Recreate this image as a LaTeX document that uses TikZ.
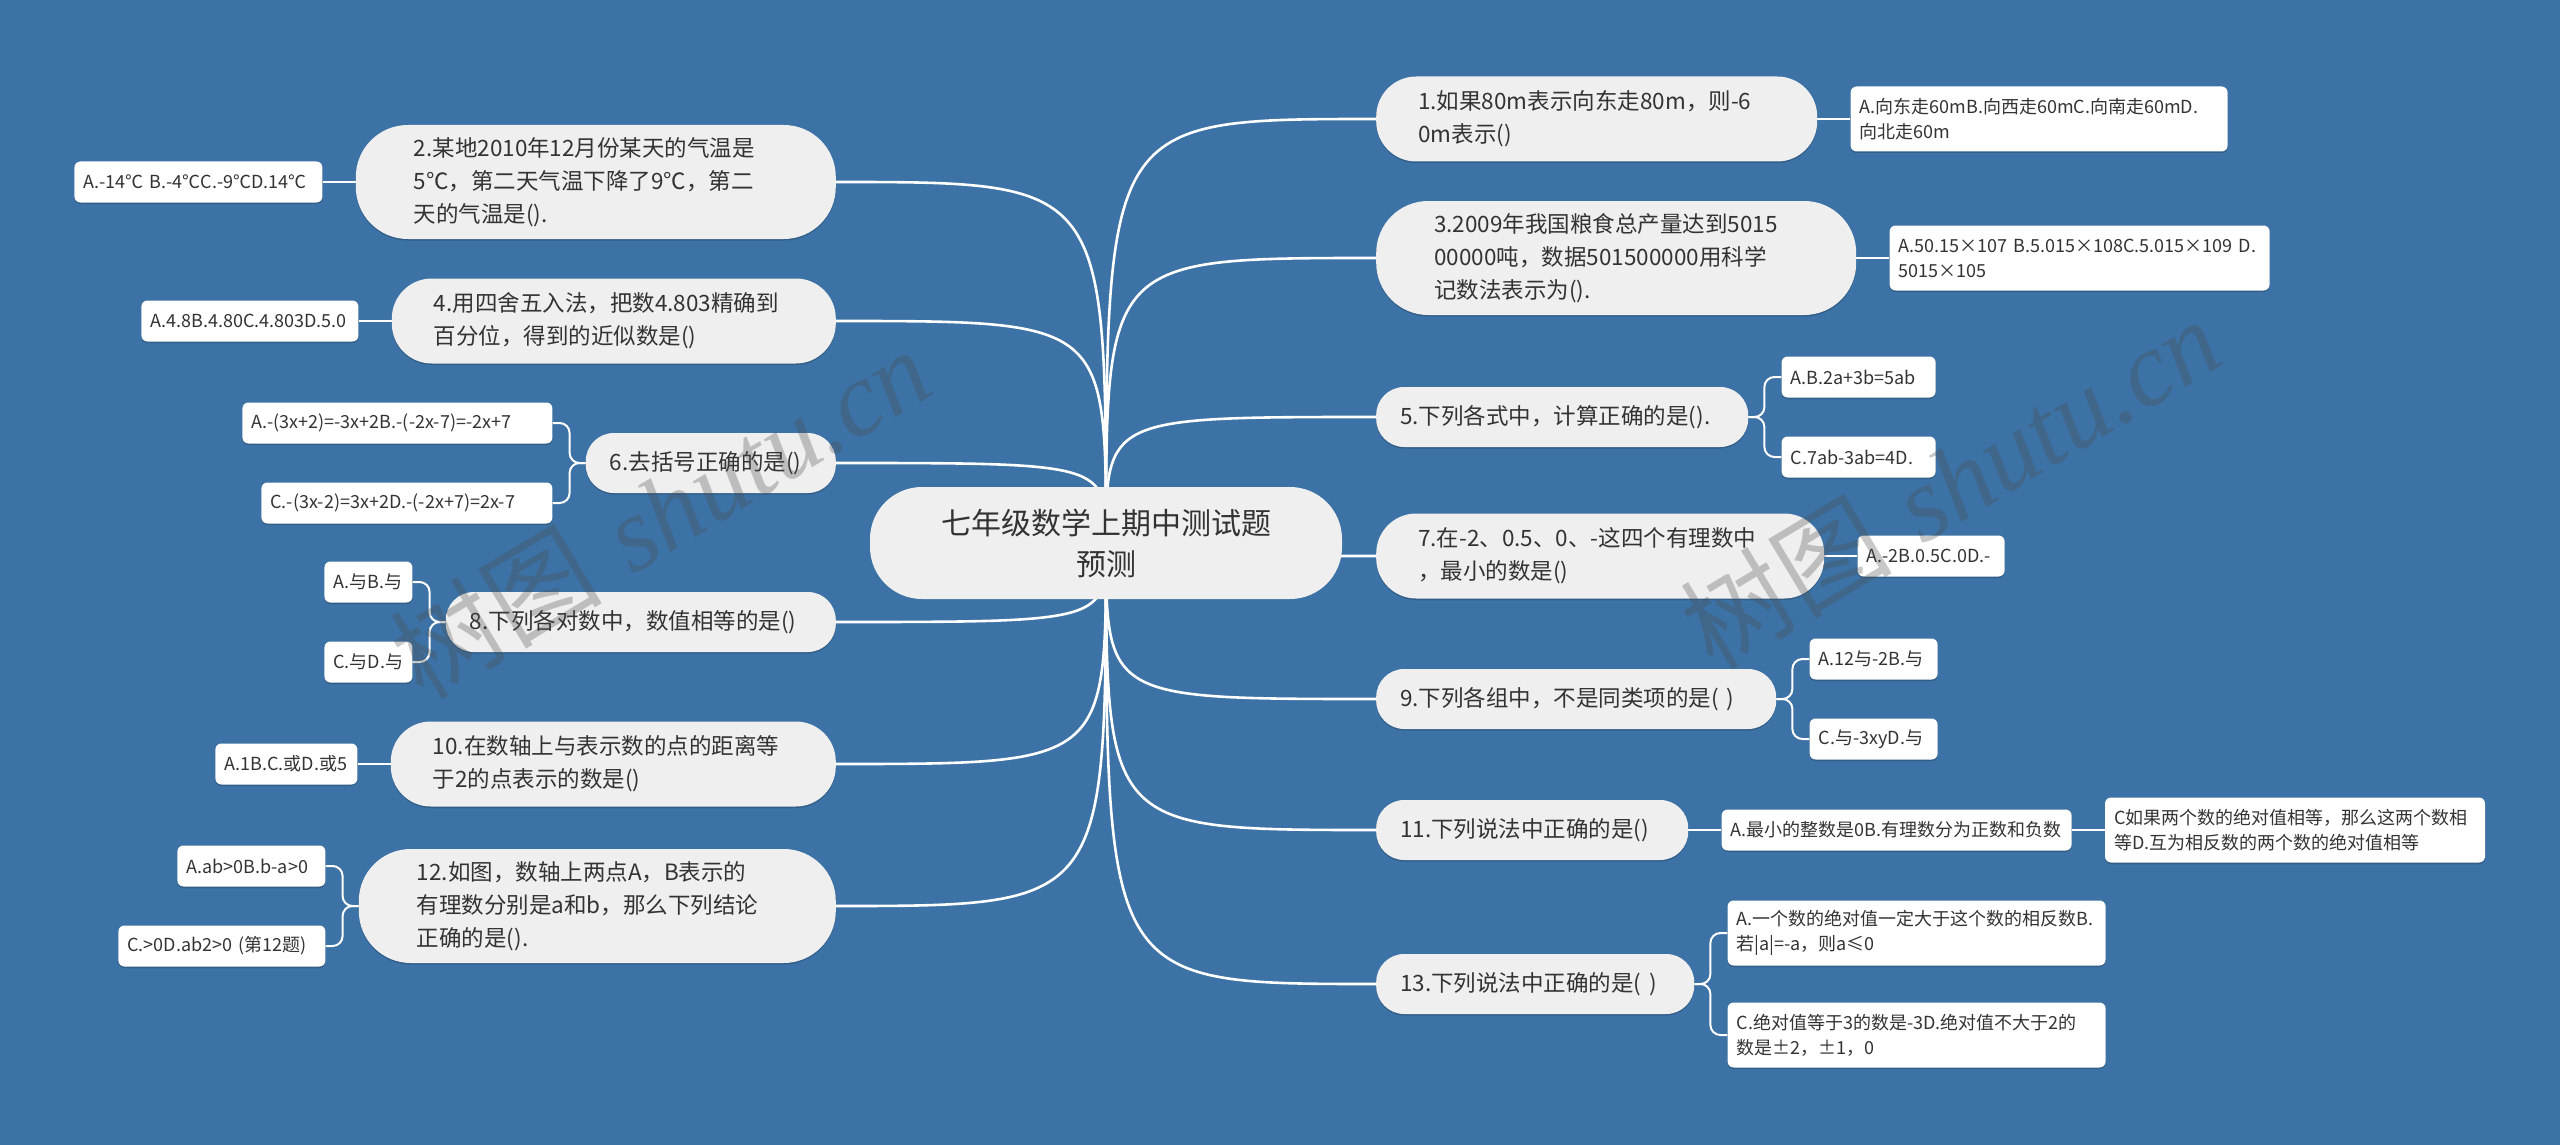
\documentclass[tikz,border=0pt]{standalone}
\usepackage{fontspec}
\newfontfamily\cjk{Noto Sans CJK SC}
\newfontfamily\yinfont{Liberation Serif}
\usepackage{tikz}
\usetikzlibrary{positioning,backgrounds,shadows}
\definecolor{clan}{HTML}{3C72A5}
\definecolor{chui}{HTML}{EFEFEF}
\definecolor{cwen}{HTML}{333333}
\tikzset{
  zhuti/.style={rectangle, rounded corners=52pt, fill=chui, text=cwen,
    font=\cjk\fontsize{30}{41}\selectfont, align=center,
    minimum width=472pt, minimum height=112pt, inner sep=0pt},
  wenti/.style={rectangle, rounded corners=28pt, fill=chui, text=cwen,
    font=\cjk\fontsize{22.5}{33}\selectfont, align=left,
    inner xsep=24pt, inner ysep=0pt, minimum height=60pt,
    drop shadow={shadow xshift=0pt, shadow yshift=-1.5pt, opacity=.18, fill=black}},
  wentil/.style={wenti, rounded corners=40pt, inner xsep=42pt, minimum height=85pt},
  wentill/.style={wenti, rounded corners=52pt, inner xsep=58pt, minimum height=114pt},
  daan/.style={rectangle, rounded corners=6pt, fill=white, text=cwen,
    font=\cjk\fontsize{18}{25}\selectfont, align=left,
    inner xsep=9pt, inner ysep=0pt, minimum height=41pt,
    drop shadow={shadow xshift=0pt, shadow yshift=-1.5pt, opacity=.18, fill=black}},
  daanl/.style={daan, minimum height=65pt},
  zhi/.style={draw=white, line width=2.6pt},
  ye/.style={draw=white, line width=2pt},
  shuiyin/.style={rotate=31, text=black!70, text opacity=.3,
    font=\fontsize{106}{106}\selectfont},
}

\begin{document}
\begin{tikzpicture}[x=1pt, y=-1pt, node distance=33pt]
  \useasboundingbox (0,0) rectangle (2560,1145);
  \node[zhuti] (zhu) at (1106,543) {七年级数学上期中测试题\\预测};

  % right side
  \node[wentil, anchor=west, text width=357pt] (n1) at (1376,119) {1.如果80m表示向东走80m，则-6\\0m表示()};
  \node[wentill, anchor=west, text width=364pt] (n3) at (1376,258) {3.2009年我国粮食总产量达到5015\\00000吨，数据501500000用科学\\记数法表示为().};
  \node[wenti, anchor=west, text width=324pt] (n5) at (1376,417) {5.下列各式中，计算正确的是().};
  \node[wentil, anchor=west, text width=364pt] (n7) at (1376,556) {7.在-2、0.5、0、-这四个有理数中\\，最小的数是()};
  \node[wenti, anchor=west, text width=352pt] (n9) at (1376,699) {9.下列各组中，不是同类项的是( )};
  \node[wenti, anchor=west, text width=264pt] (n11) at (1376,830) {11.下列说法中正确的是()};
  \node[wenti, anchor=west, text width=270pt] (n13) at (1376,984) {13.下列说法中正确的是( )};

  \node[daanl, right=of n1, text width=359pt] (l1) {A.向东走60mB.向西走60mC.向南走60mD.\\向北走60m};
  \node[daanl, right=of n3, text width=362pt] (l3) {A.50.15×107 B.5.015×108C.5.015×109 D.\\5015×105};
  \node[daan, right=of n5, yshift=40pt, text width=136pt] (l5a) {A.B.2a+3b=5ab};
  \node[daan, right=of n5, yshift=-40pt, text width=136pt] (l5b) {C.7ab-3ab=4D.};
  \node[daan, right=of n7, text width=129pt] (l7) {A.-2B.0.5C.0D.-};
  \node[daan, right=of n9, yshift=40pt, text width=110pt] (l9a) {A.12与-2B.与};
  \node[daan, right=of n9, yshift=-40pt, text width=110pt] (l9b) {C.与-3xyD.与};
  \node[daan, right=of n11, text width=332pt] (l11a) {A.最小的整数是0B.有理数分为正数和负数};
  \node[daanl, right=of l11a, text width=362pt] (l11b) {C如果两个数的绝对值相等，那么这两个数相\\等D.互为相反数的两个数的绝对值相等};
  \node[daanl, right=of n13, yshift=51pt, text width=360pt] (l13a) {A.一个数的绝对值一定大于这个数的相反数B.\\若|a|=-a，则a≤0};
  \node[daanl, right=of n13, yshift=-51pt, text width=360pt] (l13b) {C.绝对值等于3的数是-3D.绝对值不大于2的\\数是±2，±1，0};

  % left side
  \node[wentill, anchor=east, text width=364pt] (n2) at (836,182) {2.某地2010年12月份某天的气温是\\5℃，第二天气温下降了9℃，第二\\天的气温是().};
  \node[wentil, anchor=east, text width=360pt] (n4) at (836,321) {4.用四舍五入法，把数4.803精确到\\百分位，得到的近似数是()};
  \node[wenti, anchor=east, text width=202pt] (n6) at (836,463) {6.去括号正确的是()};
  \node[wenti, anchor=east, text width=342pt] (n8) at (836,622) {8.下列各对数中，数值相等的是()};
  \node[wentil, anchor=east, text width=361pt] (n10) at (836,764) {10.在数轴上与表示数的点的距离等\\于2的点表示的数是()};
  \node[wentill, anchor=east, text width=361pt] (n12) at (836,906) {12.如图，数轴上两点A，B表示的\\有理数分别是a和b，那么下列结论\\正确的是().};

  \node[daan, left=of n2, text width=230pt] (l2) {A.-14℃ B.-4℃C.-9℃D.14℃};
  \node[daan, left=of n4, text width=199pt] (l4) {A.4.8B.4.80C.4.803D.5.0};
  \node[daan, left=of n6, yshift=40pt, text width=292pt] (l6a) {A.-(3x+2)=-3x+2B.-(-2x-7)=-2x+7};
  \node[daan, left=of n6, yshift=-40pt, text width=273pt] (l6b) {C.-(3x-2)=3x+2D.-(-2x+7)=2x-7};
  \node[daan, left=of n8, yshift=40pt, text width=70pt] (l8a) {A.与B.与};
  \node[daan, left=of n8, yshift=-40pt, text width=70pt] (l8b) {C.与D.与};
  \node[daan, left=of n10, text width=124pt] (l10) {A.1B.C.或D.或5};
  \node[daan, left=of n12, yshift=40pt, text width=130pt] (l12a) {A.ab>0B.b-a>0};
  \node[daan, left=of n12, yshift=-40pt, text width=189pt] (l12b) {C.>0D.ab2>0 (第12题)};

  \begin{scope}[on background layer]
    \fill[clan] (0,0) rectangle (2560,1145);
    \foreach \n in {n1,n3,n5,n7,n9,n11,n13}
      \draw[zhi] (zhu.center) .. controls (zhu.center |- \n.west) .. (\n.west);
    \foreach \n in {n2,n4,n6,n8,n10,n12}
      \draw[zhi] (zhu.center) .. controls (zhu.center |- \n.east) .. (\n.east);
    \draw[ye] (n1)--(l1); \draw[ye] (n3)--(l3); \draw[ye] (n7)--(l7);
    \draw[ye] (n11)--(l11a); \draw[ye] (l11a)--(l11b);
    \draw[ye] (n2)--(l2); \draw[ye] (n4)--(l4); \draw[ye] (n10)--(l10);
    \foreach \a/\b in {n5/l5a,n5/l5b,n9/l9a,n9/l9b,n13/l13a,n13/l13b}
      \draw[ye, rounded corners=10pt] (\a.east) -- ++(16,0) |- (\b.west);
    \foreach \a/\b in {n6/l6a,n6/l6b,n8/l8a,n8/l8b,n12/l12a,n12/l12b}
      \draw[ye, rounded corners=10pt] (\a.west) -- ++(-16,0) |- (\b.east);
  \end{scope}

  \node[shuiyin] (sy1) at (660,512) {{\cjk 树图} \yinfont\itshape shutu.cn};
  \node[shuiyin] (sy2) at (1950,482) {{\cjk 树图} \yinfont\itshape shutu.cn};
\end{tikzpicture}
\end{document}
